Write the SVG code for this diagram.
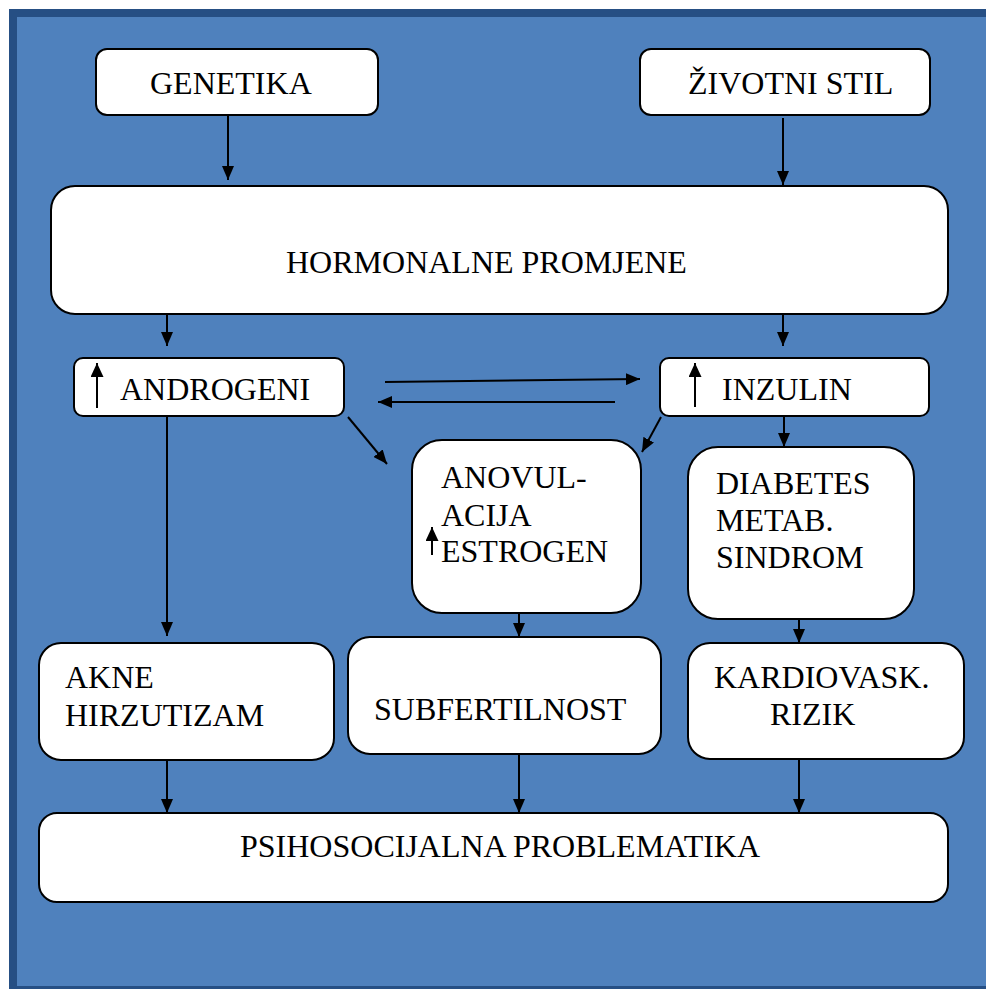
<svg xmlns="http://www.w3.org/2000/svg" width="986" height="989" viewBox="0 0 986 989">
<defs>
<style>
.box{fill:#fff;stroke:#000;stroke-width:2}
.t{font-family:"Liberation Serif","Times New Roman",serif;font-size:32px;fill:#000}
.c{stroke:#000;stroke-width:2;fill:none}
</style>
<marker id="ah" markerUnits="userSpaceOnUse" markerWidth="14" markerHeight="12" refX="14" refY="6" orient="auto"><path d="M0,0 L14,6 L0,12 z" fill="#000"/></marker>
<marker id="ahs" markerUnits="userSpaceOnUse" markerWidth="14" markerHeight="13" refX="14" refY="6.5" orient="auto"><path d="M0,0 L14,6.5 L0,13 z" fill="#000"/></marker>
</defs>
<rect x="0" y="0" width="986" height="989" fill="#fff"/>
<rect x="13" y="13" width="990" height="977" fill="#4F81BD" stroke="#264F84" stroke-width="8"/>

<g id="connectors">
<line class="c" x1="228" y1="115" x2="228" y2="180" marker-end="url(#ah)"/>
<line class="c" x1="783" y1="118" x2="783" y2="185" marker-end="url(#ah)"/>
<line class="c" x1="167" y1="314" x2="167" y2="346" marker-end="url(#ah)"/>
<line class="c" x1="783" y1="314" x2="783" y2="346" marker-end="url(#ah)"/>
<line class="c" x1="385" y1="382" x2="640" y2="379" marker-end="url(#ah)"/>
<line class="c" x1="615" y1="402" x2="378" y2="402" marker-end="url(#ah)"/>
<line class="c" x1="348" y1="417" x2="387" y2="464" marker-end="url(#ah)"/>
<line class="c" x1="661" y1="417" x2="642" y2="452" marker-end="url(#ah)"/>
<line class="c" x1="784" y1="416" x2="784" y2="447" marker-end="url(#ah)"/>
<line class="c" x1="167" y1="415" x2="167" y2="636" marker-end="url(#ah)"/>
<line class="c" x1="519" y1="613" x2="519" y2="637" marker-end="url(#ah)"/>
<line class="c" x1="799" y1="619" x2="799" y2="643" marker-end="url(#ah)"/>
<line class="c" x1="167" y1="760" x2="167" y2="813" marker-end="url(#ah)"/>
<line class="c" x1="519" y1="754" x2="519" y2="813" marker-end="url(#ah)"/>
<line class="c" x1="799" y1="759" x2="799" y2="813" marker-end="url(#ah)"/>
</g>

<g id="genetika">
<rect class="box" x="96" y="49" width="282" height="66" rx="11"/>
<text class="t" x="150" y="94">GENETIKA</text>
</g>
<g id="zivotni-stil">
<rect class="box" x="640" y="49" width="290" height="66" rx="11"/>
<text class="t" x="688" y="94">ŽIVOTNI STIL</text>
</g>
<g id="hormonalne-promjene">
<rect class="box" x="51" y="186" width="897" height="128" rx="24"/>
<text class="t" x="286" y="273">HORMONALNE PROMJENE</text>
</g>
<g id="androgeni">
<rect class="box" x="74" y="358" width="270" height="58" rx="9"/>
<line class="c" x1="97" y1="408" x2="97" y2="363" marker-end="url(#ahs)"/>
<text class="t" x="120" y="400">ANDROGENI</text>
</g>
<g id="inzulin">
<rect class="box" x="660" y="358" width="269" height="58" rx="9"/>
<line class="c" x1="695" y1="407" x2="695" y2="363" marker-end="url(#ahs)"/>
<text class="t" x="722" y="400">INZULIN</text>
</g>
<g id="anovulacija">
<rect class="box" x="412" y="440" width="229" height="173" rx="30"/>
<text class="t" x="441" y="488">ANOVUL-</text>
<text class="t" x="441" y="526">ACIJA</text>
<line class="c" x1="432" y1="555" x2="432" y2="527" marker-end="url(#ahs)"/>
<text class="t" x="441" y="562">ESTROGEN</text>
</g>
<g id="diabetes">
<rect class="box" x="688" y="447" width="226" height="172" rx="30"/>
<text class="t" x="716" y="494">DIABETES</text>
<text class="t" x="716" y="531">METAB.</text>
<text class="t" x="716" y="568">SINDROM</text>
</g>
<g id="akne">
<rect class="box" x="39" y="643" width="295" height="117" rx="22"/>
<text class="t" x="65" y="688">AKNE</text>
<text class="t" x="65" y="726">HIRZUTIZAM</text>
</g>
<g id="subfertilnost">
<rect class="box" x="348" y="637" width="313" height="117" rx="22"/>
<text class="t" x="374" y="720">SUBFERTILNOST</text>
</g>
<g id="kardiovask">
<rect class="box" x="688" y="643" width="276" height="116" rx="22"/>
<text class="t" x="714" y="688">KARDIOVASK.</text>
<text class="t" x="770" y="725">RIZIK</text>
</g>
<g id="psihosocijalna">
<rect class="box" x="39" y="813" width="909" height="89" rx="18"/>
<text class="t" x="240" y="857">PSIHOSOCIJALNA PROBLEMATIKA</text>
</g>
</svg>
